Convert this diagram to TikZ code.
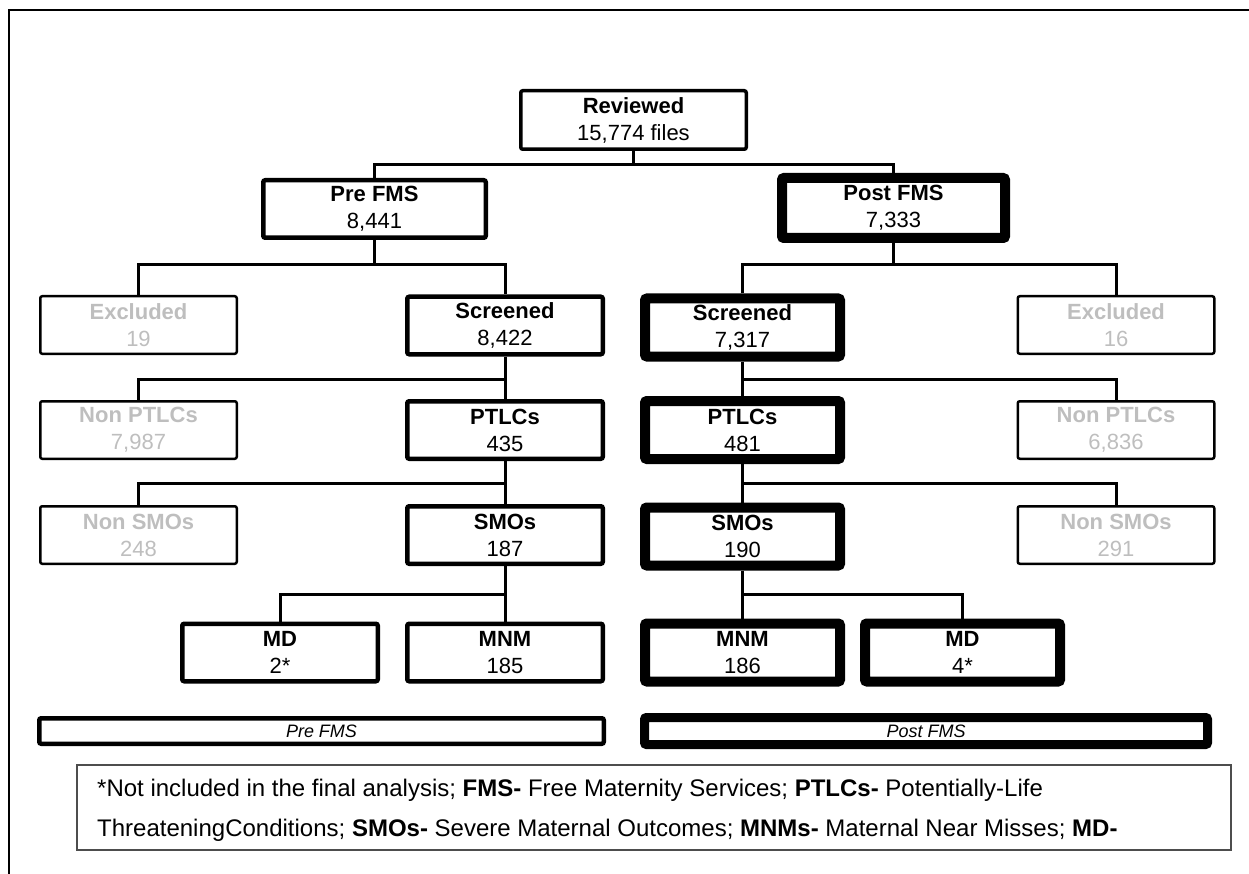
\documentclass[tikz,border=0pt]{standalone}
\usepackage{fontspec}
\setmainfont{Liberation Sans}
\definecolor{fadedtext}{HTML}{BEBEBE}
\definecolor{notegray}{HTML}{4D4D4D}
\tikzset{
  box/.style={draw, rounded corners=2pt, align=center, inner sep=0pt,
    font=\fontsize{22}{27}\selectfont},
  prebox/.style={box, line width=4.5pt, minimum width=195.5pt, minimum height=57.5pt},
  postbox/.style={box, line width=10pt, minimum width=195pt, minimum height=58pt},
  fadebox/.style={box, line width=2.5pt, text=fadedtext, minimum width=196.5pt, minimum height=57.5pt},
  link/.style={line width=3pt},
  bar/.style={draw, rounded corners=2pt, inner sep=0pt, font=\fontsize{18}{18}\selectfont\itshape},
}
\begin{document}
\begin{tikzpicture}[x=1pt,y=-1pt]
   \useasboundingbox (0,0) rectangle (1249,874);
   % cadre
   \draw[line width=2pt] (9,874) -- (9,10) -- (1249,10);

   % niveaux des branchements
   \coordinate (lvA) at (0,165);
   \coordinate (lvB) at (0,265);
   \coordinate (lvC) at (0,379);
   \coordinate (lvD) at (0,483);
   \coordinate (lvE) at (0,594);

   % haut de l'arbre
   \node[box, line width=3.5pt, minimum width=225.5pt, minimum height=58.5pt] (rev) at (633.5,120) {\textbf{Reviewed}\\15,774 files};
   \node[prebox, minimum width=222.5pt] (pre) at (374.5,209) {\textbf{Pre FMS}\\8,441};
   \node[postbox, minimum width=223pt, minimum height=60pt] (post) at (893.5,208) {\textbf{Post FMS}\\7,333};

   % colonne Pre FMS
   \node[fadebox] (exclL) at (138.5,325) {\textbf{Excluded}\\19};
   \node[prebox] (scrL) at (505,325.5) {\textbf{Screened}\\8,422};
   \node[fadebox] (nptL) at (138.5,430) {\textbf{Non PTLCs}\\7,987};
   \node[prebox] (ptlL) at (505,430) {\textbf{PTLCs}\\435};
   \node[fadebox] (nsmL) at (138.5,535) {\textbf{Non SMOs}\\248};
   \node[prebox] (smoL) at (505,535) {\textbf{SMOs}\\187};
   \node[prebox] (mdL) at (280,652.5) {\textbf{MD}\\2*};
   \node[prebox] (mnmL) at (505,652.5) {\textbf{MNM}\\185};

   % colonne Post FMS
   \node[postbox] (scrR) at (742.5,327.5) {\textbf{Screened}\\7,317};
   \node[fadebox] (exclR) at (1116,325) {\textbf{Excluded}\\16};
   \node[postbox] (ptlR) at (742.5,430) {\textbf{PTLCs}\\481};
   \node[fadebox] (nptR) at (1116,430) {\textbf{Non PTLCs}\\6,836};
   \node[postbox] (smoR) at (742.5,536.5) {\textbf{SMOs}\\190};
   \node[fadebox] (nsmR) at (1116,535) {\textbf{Non SMOs}\\291};
   \node[postbox] (mnmR) at (742.5,652.5) {\textbf{MNM}\\186};
   \node[postbox] (mdR) at (962.5,652.5) {\textbf{MD}\\4*};

   % liens
   \draw[link] (rev.south) -- (rev.south |- lvA);
   \draw[link] (pre.north) |- (post.north |- lvA) -- (post.north);
   \draw[link] (pre.south) -- (pre.south |- lvB);
   \draw[link] (exclL.north) |- (scrL.north |- lvB) -- (scrL.north);
   \draw[link] (post.south) -- (post.south |- lvB);
   \draw[link] (scrR.north) |- (exclR.north |- lvB) -- (exclR.north);
   \foreach \top/\bot/\side/\lv in {scrL/ptlL/nptL/lvC, ptlL/smoL/nsmL/lvD, scrR/ptlR/nptR/lvC, ptlR/smoR/nsmR/lvD} {
      \draw[link] (\top.south) -- (\bot.north);
      \draw[link] (\side.north) |- (\top.south |- \lv);
   }
   \draw[link] (smoL.south) -- (mnmL.north);
   \draw[link] (mdL.north) |- (smoL.south |- lvE);
   \draw[link] (smoR.south) -- (mnmR.north);
   \draw[link] (mdR.north) |- (smoR.south |- lvE);

   % bandeaux
   \node[bar, line width=4.5pt, minimum width=564.5pt, minimum height=25.5pt] (preBar) at (321.5,731) {Pre FMS};
   \node[bar, line width=9pt, minimum width=563pt, minimum height=27pt] (postBar) at (926,731) {Post FMS};

   % note
   \node[draw=notegray, line width=2pt, minimum width=1154pt, minimum height=85pt, inner sep=0pt] (note) at (654,807.5) {};
   \node[anchor=base west, inner sep=0pt, font=\fontsize{24}{24}\selectfont] (noteA) at (97,796)
      {*Not included in the final analysis; \textbf{FMS-} Free Maternity Services; \textbf{PTLCs-} Potentially-Life};
   \node[anchor=base west, inner sep=0pt, font=\fontsize{24}{24}\selectfont] (noteB) at (97,836)
      {ThreateningConditions; \textbf{SMOs-} Severe Maternal Outcomes; \textbf{MNMs-} Maternal Near Misses; \textbf{MD-}};
\end{tikzpicture}
\end{document}
